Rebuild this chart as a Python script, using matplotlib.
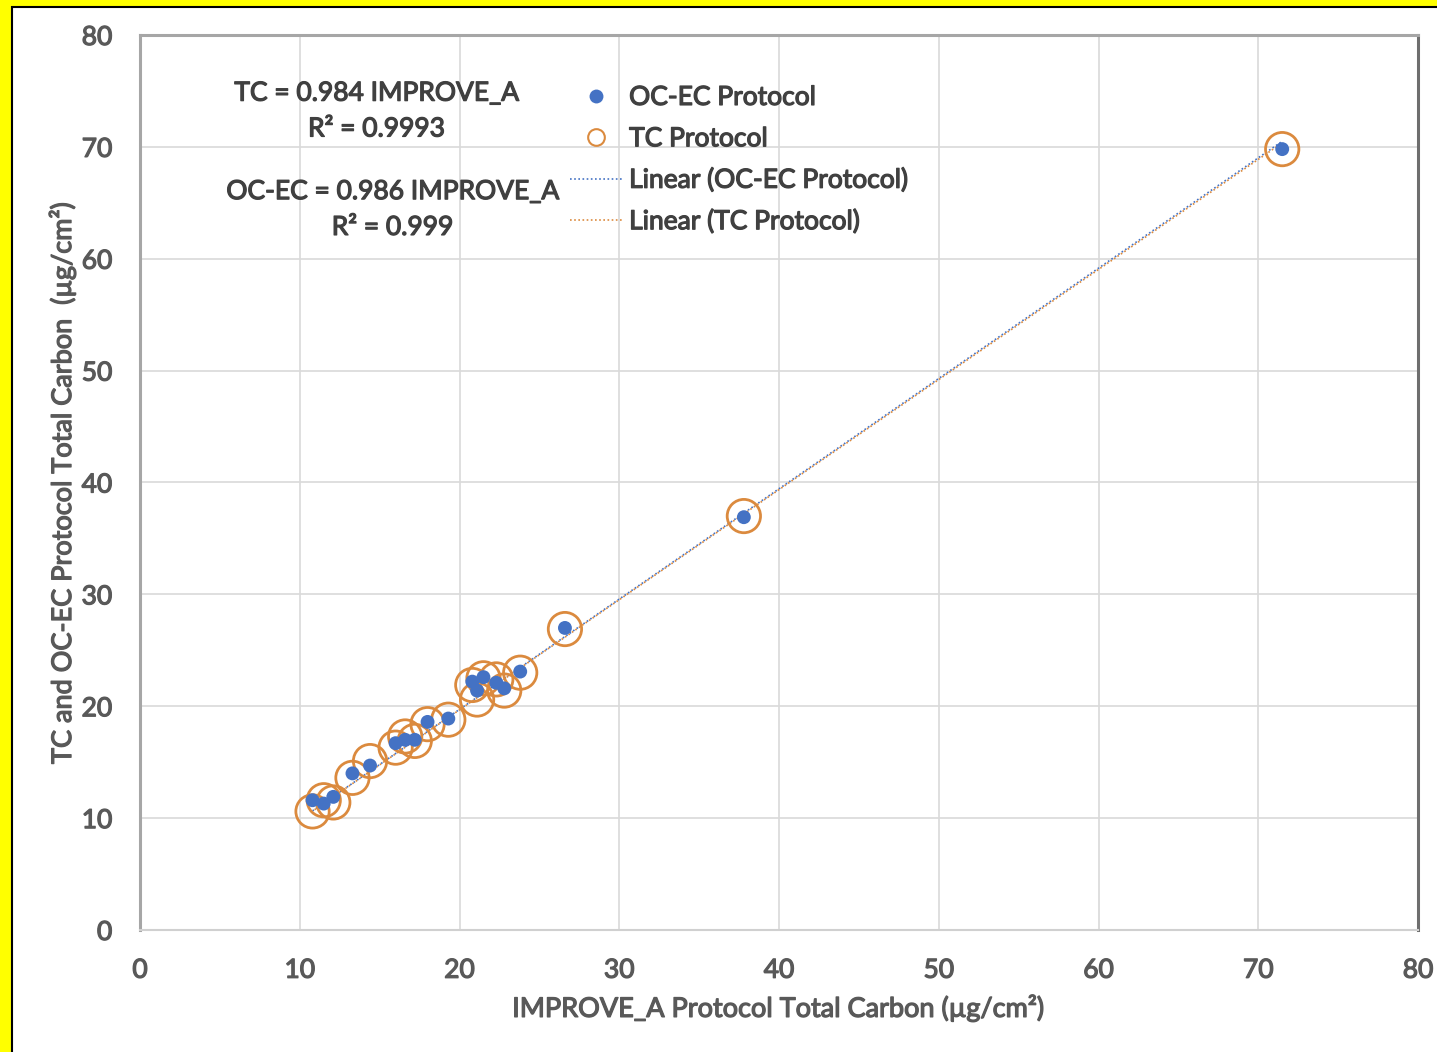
import numpy as np
import matplotlib
matplotlib.use('Agg')
import matplotlib.pyplot as plt
import matplotlib.patheffects as pe
from matplotlib.patches import Rectangle
from matplotlib.lines import Line2D

plt.rcParams['font.family'] = ['Lato', 'DejaVu Sans']

# IMPROVE_A total carbon (x) and the two alternative protocols (y), µg/cm²
improve_tc = [10.8, 11.5, 12.1, 13.3, 14.4, 16.0, 16.6, 17.2, 18.0, 19.3,
              20.8, 21.1, 21.5, 22.3, 22.8, 23.8, 26.6, 37.8, 71.5]
ocec_tc = [11.6, 11.3, 11.9, 14.0, 14.7, 16.7, 17.0, 17.0, 18.6, 18.9,
           22.2, 21.4, 22.6, 22.1, 21.6, 23.1, 27.0, 36.9, 69.8]
tc_tc = [10.6, 11.6, 11.4, 13.6, 15.1, 16.3, 17.3, 16.9, 18.4, 18.8,
         21.9, 20.6, 22.5, 22.4, 21.4, 23.0, 26.9, 37.0, 69.8]

ocec_slope = 0.986
ocec_r2 = 0.999
tc_slope = 0.984
tc_r2 = 0.9993

blue = '#4472C4'
orange = '#DB8A3E'
txt = '#595959'
eq_color = '#404040'


def thicken(color):
    # a thin outline in the text colour makes the glyphs look semi-bold
    return [pe.withStroke(linewidth=0.9, foreground=color)]


fig = plt.figure(figsize=(14.37, 10.52), dpi=100, facecolor='#FFFF00')
# white page with a black rule on the left and top edges
fig.patches.append(Rectangle((12 / 1437, -0.05), 1.1, 1.05 - 7 / 1052,
                             transform=fig.transFigure, facecolor='white',
                             edgecolor='black', linewidth=1.5, zorder=-10))

ax = fig.add_axes([140 / 1437, 122 / 1052, 1278 / 1437, 895 / 1052])
ax.set_facecolor('white')

x = np.array(improve_tc)
xs = np.array([x.min(), x.max()])
ax.plot(xs, ocec_slope * xs, linestyle=(0, (1, 1.5)), color=blue, linewidth=1.2, zorder=2)
ax.plot(xs, tc_slope * xs, linestyle=(1, (1, 1.5)), color=orange, linewidth=1.2, zorder=2)

ax.scatter(improve_tc, tc_tc, s=24 ** 2, facecolors='none', edgecolors=orange,
           linewidths=2, zorder=3)
ax.scatter(improve_tc, ocec_tc, s=10 ** 2, color=blue, edgecolors='none', zorder=4)

ax.set_xlim(0, 80)
ax.set_ylim(0, 80)
ax.set_xticks(range(0, 81, 10))
ax.set_yticks(range(0, 81, 10))
ax.grid(True, color='#D9D9D9', linewidth=1.2)
ax.set_axisbelow(True)
ax.tick_params(axis='x', length=0, labelsize=19, labelcolor=txt, pad=20)
ax.tick_params(axis='y', length=0, labelsize=19, labelcolor=txt, pad=20)
for lab in ax.get_xticklabels() + ax.get_yticklabels():
    lab.set_path_effects(thicken(txt))

for side in ['left', 'top']:
    ax.spines[side].set_color('#A6A6A6')
    ax.spines[side].set_linewidth(2.2)
ax.spines['right'].set_color('#6E6E6E')
ax.spines['right'].set_linewidth(2.2)
ax.spines['bottom'].set_color('#D0D0D0')
ax.spines['bottom'].set_linewidth(1.5)

ax.set_xlabel('IMPROVE_A Protocol Total Carbon (µg/cm²)', fontsize=19.5,
              color=txt, labelpad=8, path_effects=thicken(txt))
ax.set_ylabel('TC and OC-EC Protocol Total Carbon  (µg/cm²)', fontsize=19.5,
              color=txt, labelpad=4, path_effects=thicken(txt))

eq_kw = dict(ha='center', va='center', fontsize=19, color=eq_color,
             path_effects=thicken(eq_color))
ax.text(14.8, 74.8, f'TC = {tc_slope:.3f} IMPROVE_A', **eq_kw)
ax.text(14.8, 71.6, f'R² = {tc_r2}', **eq_kw)
ax.text(15.8, 66.0, f'OC-EC = {ocec_slope:.3f} IMPROVE_A', **eq_kw)
ax.text(15.8, 62.8, f'R² = {ocec_r2}', **eq_kw)

handles = [
    Line2D([], [], linestyle='none', marker='o', markersize=10,
           markerfacecolor=blue, markeredgecolor='none'),
    Line2D([], [], linestyle='none', marker='o', markersize=12,
           markerfacecolor='none', markeredgecolor=orange, markeredgewidth=1.5),
    Line2D([], [], linestyle=(0, (1, 1.5)), color=blue, linewidth=1.2),
    Line2D([], [], linestyle=(0, (1, 1.5)), color=orange, linewidth=1.2),
]
labels = ['OC-EC Protocol', 'TC Protocol', 'Linear (OC-EC Protocol)', 'Linear (TC Protocol)']
leg = ax.legend(handles, labels, loc='upper left', bbox_to_anchor=(0.328, 0.956),
                frameon=False, fontsize=19, handlelength=2.0, handletextpad=0.25,
                labelspacing=0.62, borderaxespad=0)
for t in leg.get_texts():
    t.set_color(eq_color)
    t.set_path_effects(thicken(eq_color))

fig.savefig('out.png', dpi=100, facecolor=fig.get_facecolor())
